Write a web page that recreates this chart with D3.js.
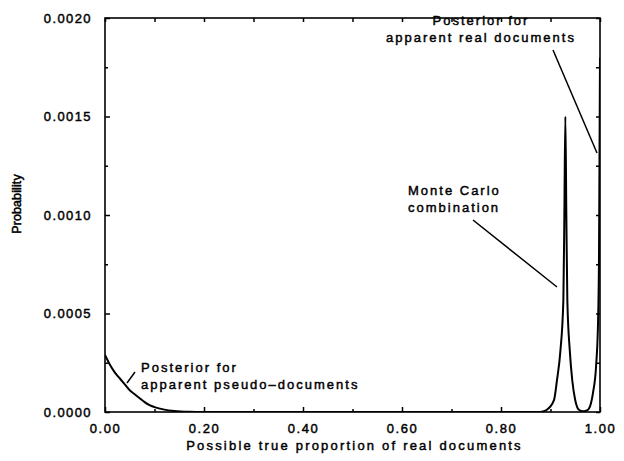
<!DOCTYPE html>
<html>
<head>
<meta charset="utf-8">
<script src="https://cdn.jsdelivr.net/npm/d3@7"></script>
<style>
  body { margin: 0; background: #fff; }
  svg text { font-family: "Liberation Sans", Arial, sans-serif; fill: #000; }
</style>
</head>
<body>
<svg id="chart" width="624" height="461"></svg>
<script>
// values: [proportion, probability]
const pseudoDocs = [
  [0.000, 0.00029], [0.010, 0.00024], [0.020, 0.00020], [0.030, 0.00017],
  [0.040, 0.00014], [0.050, 0.00011], [0.060, 0.00009], [0.070, 0.00007],
  [0.080, 0.00005], [0.090, 0.000035], [0.100, 0.000025], [0.120, 0.000012],
  [0.140, 0.000005], [0.170, 0.000001], [0.200, 0], [0.880, 0]
]
const monteCarlo = [
  [0.880, 0], [0.892, 0.00001], [0.907, 0.00006], [0.913, 0.00016],
  [0.920, 0.00031], [0.926, 0.00057], [0.928, 0.00100], [0.930, 0.00150],
  [0.932, 0.00100], [0.934, 0.00057], [0.939, 0.00031], [0.944, 0.00016],
  [0.950, 0.00006], [0.958, 0.00001], [0.970, 0]
]
const realDocs = [
  [0.960, 0], [0.975, 0.00001], [0.980, 0.00003], [0.986, 0.00010],
  [0.992, 0.00023], [0.996, 0.00045], [0.998, 0.00080], [0.999, 0.00130],
  [1.000, 0.00180]
]
const xMajor = [0, 0.2, 0.4, 0.6, 0.8, 1.0]
const xMinor = [0.1, 0.3, 0.5, 0.7, 0.9]
const yMajor = [0, 0.0005, 0.0010, 0.0015, 0.0020]
const yMinor = [0.00025, 0.00075, 0.00125, 0.00175]
const xTitle = 'Possible true proportion of real documents'
const yTitle = 'Probability'

const margin = { left: 105, top: 18, right: 24, bottom: 49 }
const svg = d3.select('#chart')
const width = 624 - margin.left - margin.right
const height = 461 - margin.top - margin.bottom

const x = d3.scaleLinear().domain([0, 1]).range([0, width])
const y = d3.scaleLinear().domain([0, 0.002]).range([height, 0])

const g = svg.append('g').attr('transform', `translate(${margin.left},${margin.top})`)

g.append('clipPath').attr('id', 'clip')
  .append('rect').attr('width', width).attr('height', height)

// curves
const path = d3.line().x(d => x(d[0])).y(d => y(d[1])).curve(d3.curveMonotoneX)
;[pseudoDocs, monteCarlo, realDocs].forEach(data => {
  g.append('path').datum(data)
    .attr('clip-path', 'url(#clip)')
    .attr('d', path)
    .attr('fill', 'none')
    .attr('stroke', '#000')
    .attr('stroke-width', 2)
})

// axes, ticks pointing inward on all four sides
function styleAxis(sel, spacing) {
  sel.select('.domain').remove()
  sel.selectAll('.tick line').attr('stroke', '#000').attr('stroke-width', 1.5)
  sel.selectAll('.tick text')
    .style('font-size', '13px')
    .style('letter-spacing', spacing)
    .attr('stroke', '#000').attr('stroke-width', 0.45)
}

g.append('g').attr('transform', `translate(0,${height})`)
  .call(d3.axisBottom(x).tickValues(xMajor).tickSize(-5).tickPadding(12).tickFormat(d3.format('.2f')))
  .call(s => styleAxis(s, '1.6px'))
g.append('g').attr('transform', `translate(0,${height})`)
  .call(d3.axisBottom(x).tickValues(xMinor).tickSize(-3).tickFormat(''))
  .call(s => styleAxis(s, '0'))
g.append('g')
  .call(d3.axisLeft(y).tickValues(yMajor).tickSize(-5).tickPadding(13).tickFormat(d3.format('.4f')))
  .call(s => styleAxis(s, '1.4px'))
g.append('g')
  .call(d3.axisLeft(y).tickValues(yMinor).tickSize(-3).tickFormat(''))
  .call(s => styleAxis(s, '0'))
g.append('g').attr('transform', `translate(${width},0)`)
  .call(d3.axisRight(y).tickValues(yMajor.concat(yMinor)).tickSize(-4).tickFormat(''))
  .call(s => styleAxis(s, '0'))
g.append('g')
  .call(d3.axisTop(x).tickValues(xMajor.concat(xMinor)).tickSize(-4).tickFormat(''))
  .call(s => styleAxis(s, '0'))

// frame
g.append('rect').attr('width', width).attr('height', height)
  .attr('fill', 'none').attr('stroke', '#000').attr('stroke-width', 1.6)

// axis titles
svg.append('text')
  .attr('x', margin.left + width / 2 + 2).attr('y', 450)
  .attr('text-anchor', 'middle')
  .style('font-size', '13px').style('letter-spacing', '2.2px')
  .attr('stroke', '#000').attr('stroke-width', 0.45)
  .text(xTitle)
svg.append('text')
  .attr('transform', 'translate(21,204) rotate(-90)')
  .attr('text-anchor', 'middle')
  .style('font-size', '12.5px').style('letter-spacing', '0.1px')
  .attr('stroke', '#000').attr('stroke-width', 0.5)
  .text(yTitle)

// annotations
const notes = [
  { lines: ['Posterior for', 'apparent pseudo\u2013documents'], x: 141, y: 372, anchor: 'start', from: [127, 383], to: [135, 372] },
  { lines: ['Monte Carlo', 'combination'], x: 408, y: 195, anchor: 'start', from: [473, 220], to: [557, 287] },
  { lines: ['Posterior for', 'apparent real documents'], x: 481, y: 25, anchor: 'middle', from: [553, 50], to: [597, 153] }
]
notes.forEach(n => {
  const t = svg.append('text')
    .attr('text-anchor', n.anchor)
    .style('font-size', '13px').style('letter-spacing', '2px')
    .attr('stroke', '#000').attr('stroke-width', 0.45)
  n.lines.forEach((s, i) => {
    t.append('tspan').attr('x', n.x).attr('y', n.y + i * 17).text(s)
  })
  svg.append('line')
    .attr('x1', n.from[0]).attr('y1', n.from[1])
    .attr('x2', n.to[0]).attr('y2', n.to[1])
    .attr('stroke', '#000').attr('stroke-width', 1.5)
})
</script>
</body>
</html>
